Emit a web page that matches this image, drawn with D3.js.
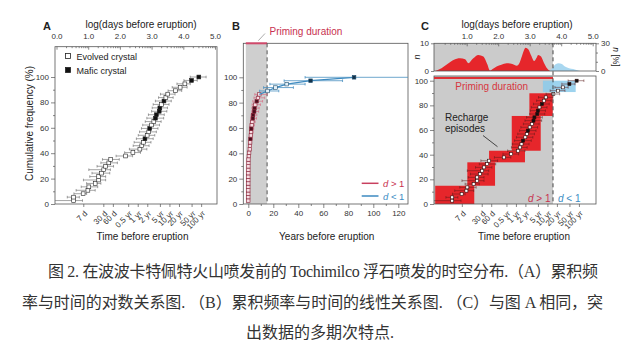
<!DOCTYPE html>
<html><head><meta charset="utf-8">
<script src="https://cdn.jsdelivr.net/npm/d3@7"></script>
<style>body{margin:0;background:#fff}svg{display:block}</style>
</head><body><svg id="c" width="641" height="360"></svg>
<script>
// ---------------- DATA ----------------
const logDays = [0.54,0.54,0.84,0.99,1.02,1.22,1.33,1.33,1.42,1.49,1.55,1.65,1.71,2.18,2.41,2.63,2.69,2.74,2.79,2.86,2.91,2.94,3.00,3.07,3.12,3.15,3.24,3.26,3.31,3.39,3.45,3.51,3.75,3.90,4.05,4.26,4.49];
const cumFreq = [2.7,5.4,8.1,10.8,13.5,16.2,18.9,21.6,24.3,27.0,29.7,32.4,35.1,37.8,40.5,43.2,45.9,48.6,51.4,54.1,56.8,59.5,62.2,64.9,67.6,70.3,73.0,75.7,78.4,81.1,83.8,86.5,89.2,91.9,94.6,97.3,100];
const errLo = [-0.2,0.34,0.55,0.62,0.78,0.95,0.85,1.05,1.12,1.02,1.28,1.40,1.45,1.88,2.15,2.30,2.42,2.45,2.52,2.58,2.62,2.68,2.72,2.80,2.85,2.90,3.00,3.02,3.05,3.12,3.22,3.28,3.52,3.65,3.80,4.02,4.22];
const errHi = [0.82,0.72,0.95,1.22,1.30,1.40,1.55,1.55,1.68,1.70,1.80,1.92,1.98,2.40,2.65,2.85,2.92,2.98,3.05,3.10,3.15,3.20,3.25,3.30,3.38,3.40,3.48,3.50,3.55,3.62,3.68,3.74,3.95,4.12,4.22,4.44,4.72];
const crystal = ["E","E","E","E","E","E","E","E","E","E","E","E","E","E","E","E","E","E","M","E","E","M","E","E","M","M","M","M","E","M","E","E","E","E","E","M","M"];
const logTicks = [0,1,2,3,4,5];
const freqTicks = [0,20,40,60,80,100];
const yearTicks = [0,20,40,60,80,100,120];
const timeTickDays = [7,30,60,182.5,365.25,730.5,1826.25,3652.5,7305,18262.5,36525];
const timeTickLabels = ["7 d","30 d","60 d","0.5 yr","1 yr","2 yr","5 yr","10 yr","20 yr","50 yr","100 yr"];
const primingLog = 3.74;
const densRedX = [0,0.2,0.4,0.58,0.79,0.95,1.05,1.2,1.37,1.53,1.65,1.74,1.85,1.95,2.1,2.27,2.45,2.59,2.68,2.75,2.87,2.96,3.05,3.14,3.22,3.27,3.36,3.45,3.55,3.65];
const densRedN = [0,1.0,2.6,4.0,4.6,4.2,2.8,4.5,5.8,5.2,2.5,0.2,0.9,1.6,2.3,2.8,2.5,1.9,3.0,5.2,8.4,7.8,5.5,3.6,4.8,5.8,5.2,3.0,1.0,0];
const densBlueX = [3.62,3.72,3.82,3.92,4.02,4.12,4.25,4.38,4.48,4.6];
const densBlueN = [0,1.0,2.4,2.8,2.5,1.6,1.0,0.7,0.4,0];
const episodeLogLo = [0,1.02,1.71,2.43,2.99];
const episodeLogHi = [1.24,1.90,2.85,3.35,3.73];
const episodeFreqLo = [0,14.8,33.8,43.2,71.4];
const episodeFreqHi = [14.8,33.8,43.2,71.4,89.8];
const lateLogLo = [3.42], lateLogHi = [4.46], lateFreqLo = [90.8], lateFreqHi = [100];
const captionLines = ["图 2. 在波波卡特佩特火山喷发前的 Tochimilco 浮石喷发的时空分布.（A）累积频",
  "率与时间的对数关系图. （B）累积频率与时间的线性关系图. （C）与图 A 相同，突",
  "出数据的多期次特点."];

// ---------------- SETUP ----------------
const svg = d3.select('#c');
const FONT = '"Liberation Sans", Arial, sans-serif';
const AX = '#555', INK = '#222';
const RED_T = '#c8314f', BLUE_T = '#3d8dc4';
const defs = svg.append('defs');
const rows = logDays.map((d,i)=>({x:d,y:cumFreq[i],lo:errLo[i],hi:errHi[i],t:crystal[i],i}));
const toYears = l => Math.pow(10,l)/365.25;

function clip(id,r){defs.append('clipPath').attr('id',id).append('rect')
  .attr('x',r.l).attr('y',r.t).attr('width',r.r-r.l).attr('height',r.b-r.t);return `url(#${id})`;}
function frame(r){svg.append('rect').attr('x',r.l).attr('y',r.t).attr('width',r.r-r.l).attr('height',r.b-r.t)
  .attr('fill','none').attr('stroke',AX).attr('stroke-width',0.8);}
function styleAxis(g,fs){g.select('.domain').remove();
  g.attr('font-family',FONT).attr('font-size',fs||8);
  g.selectAll('line').attr('stroke',AX).attr('stroke-width',0.7);
  g.selectAll('text').attr('fill','#333');}
function txt(x,y,s,o){const t=svg.append('text').attr('x',x).attr('y',y).text(s)
  .attr('font-family',FONT).attr('font-size',(o&&o.fs)||10).attr('fill',(o&&o.fill)||INK)
  .attr('text-anchor',(o&&o.anchor)||'middle');
  if(o&&o.weight)t.attr('font-weight',o.weight);
  if(o&&o.rot)t.attr('transform',`rotate(${o.rot},${x},${y})`);return t;}
function points(g,xf,yf,data,size,col,fillOpen,fillFull,ebCol,ebW){
  g.selectAll(null).data(data).join('line').attr('x1',d=>xf(d.lo)).attr('x2',d=>xf(d.hi))
    .attr('y1',d=>yf(d.y)).attr('y2',d=>yf(d.y)).attr('stroke',ebCol).attr('stroke-width',ebW);
  ['lo','hi'].forEach(k=>g.selectAll(null).data(data).join('line').attr('x1',d=>xf(d[k])).attr('x2',d=>xf(d[k]))
    .attr('y1',d=>yf(d.y)-1.3).attr('y2',d=>yf(d.y)+1.3).attr('stroke',ebCol).attr('stroke-width',ebW));
  g.selectAll(null).data(data).join('rect').attr('x',d=>xf(d.x)-size/2).attr('y',d=>yf(d.y)-size/2)
    .attr('width',size).attr('height',size).attr('fill',d=>d.t==='M'?fillFull:fillOpen)
    .attr('stroke',col).attr('stroke-width',0.6);
}
const minorLog=[];for(let k=0;k<5;k++)for(let m=2;m<10;m++)minorLog.push(k+Math.log10(m));
function timeAxis(xf,yb){
  const g=svg.append('g').attr('transform',`translate(0,${yb})`)
    .call(d3.axisBottom(xf).tickValues(timeTickDays.map(d=>Math.log10(d))).tickFormat((d,i)=>timeTickLabels[i]).tickSize(3));
  styleAxis(g,8);
  g.selectAll('text').attr('y',0).attr('x',0).attr('dy','0.35em').attr('text-anchor','end')
    .attr('transform','translate(2,8) rotate(-45)');
}
function freqAxis(yf,xl){
  const g=svg.append('g').attr('transform',`translate(${xl},0)`).call(d3.axisLeft(yf).tickValues(freqTicks).tickSize(4).tickPadding(2));
  styleAxis(g,8);
  const g2=svg.append('g').attr('transform',`translate(${xl},0)`).call(d3.axisLeft(yf).tickValues([10,30,50,70,90]).tickSize(2).tickFormat(''));
  styleAxis(g2,8);
}

// ---------------- PANEL A ----------------
const A={l:55,r:217,t:46.7,b:204};
const xA=d3.scaleLinear([0,5],[56.5,215]);
const yA=d3.scaleLinear([0,100],[204,77]);
frame(A);
{const g=svg.append('g').attr('transform',`translate(0,${A.t})`).call(d3.axisTop(xA).tickValues(logTicks).tickSize(-3).tickPadding(7.5));styleAxis(g,8);
 const g2=svg.append('g').attr('transform',`translate(0,${A.t})`).call(d3.axisTop(xA).tickValues(minorLog).tickSize(-1.5).tickFormat(''));styleAxis(g2);}
freqAxis(yA,A.l);
timeAxis(xA,A.b);
const gA=svg.append('g').attr('clip-path',clip('cA',A));
points(gA,xA,yA,rows,3.8,'#222','#fff','#111','#666',0.6);
txt(47,30,'A',{fs:11,weight:'bold'});
txt(141,28,'log(days before eruption)');
txt(142.5,240,'Time before eruption');
txt(33,123.5,'Cumulative frequency (%)',{rot:-90});
svg.append('rect').attr('x',65.5).attr('y',53.5).attr('width',5).attr('height',5).attr('fill','#fff').attr('stroke','#222').attr('stroke-width',0.8);
svg.append('rect').attr('x',65.5).attr('y',67.5).attr('width',5).attr('height',5).attr('fill','#111').attr('stroke','#222').attr('stroke-width',0.8);
txt(76.5,59.5,'Evolved crystal',{fs:9,anchor:'start'});
txt(76.5,73.5,'Mafic crystal',{fs:9,anchor:'start'});

// ---------------- PANEL B ----------------
const B={l:243.3,r:408,t:43.3,b:204};
const xB=d3.scaleLinear([0,120],[248.3,398.3]);
const yB=d3.scaleLinear([0,100],[204,77.3]);
const primYr=toYears(primingLog);
svg.append('rect').attr('x',xB(-2)).attr('y',B.t).attr('width',xB(primYr)-xB(-2)).attr('height',B.b-B.t).attr('fill','#cfcfcf');
frame(B);
svg.append('line').attr('x1',xB(-2)).attr('x2',xB(primYr)).attr('y1',B.t).attr('y2',B.t).attr('stroke','#d0486a').attr('stroke-width',2);
svg.append('line').attr('x1',xB(primYr)).attr('x2',xB(primYr)).attr('y1',B.t).attr('y2',B.b).attr('stroke','#555').attr('stroke-width',1).attr('stroke-dasharray','4,3');
{const g=svg.append('g').attr('transform',`translate(0,${B.b})`).call(d3.axisBottom(xB).tickValues(yearTicks).tickSize(4).tickPadding(2));styleAxis(g,8);
 const g2=svg.append('g').attr('transform',`translate(0,${B.b})`).call(d3.axisBottom(xB).tickValues([10,30,50,70,90,110]).tickSize(2).tickFormat(''));styleAxis(g2);}
freqAxis(yB,B.l);
const gB=svg.append('g').attr('clip-path',clip('cB',B));
const xBl=l=>xB(toYears(l));
const redRows=rows.slice(0,32), blueRows=rows.slice(31);
gB.append('path').datum(redRows).attr('d',d3.line().x(d=>xBl(d.x)).y(d=>yB(d.y))).attr('fill','none').attr('stroke','#d9607a').attr('stroke-width',2.2).attr('opacity',0.85);
points(gB,xBl,yB,redRows,3.4,'#8b2338','#f6dde3','#4a0f1e','#d9607a',0.6);
gB.append('path').datum(blueRows).attr('d',d3.line().x(d=>xBl(d.x)).y(d=>yB(d.y))).attr('fill','none').attr('stroke','#3d8ac0').attr('stroke-width',1.3);
points(gB,xBl,yB,rows.slice(32),3.6,'#1f4e6e','#e3f0f8','#14324a','#4a90c0',0.8);
txt(236,29.5,'B',{fs:11,weight:'bold'});
svg.append('line').attr('x1',258.3).attr('y1',40.7).attr('x2',265).attr('y2',33.5).attr('stroke','#888').attr('stroke-width',0.7);
txt(269.5,34.5,'Priming duration',{anchor:'start',fill:RED_T});
txt(326.7,240,'Years before eruption');
svg.append('line').attr('x1',361.7).attr('x2',378.5).attr('y1',183.3).attr('y2',183.3).attr('stroke','#c8405f').attr('stroke-width',1.5);
svg.append('line').attr('x1',361.7).attr('x2',378.5).attr('y1',196).attr('y2',196).attr('stroke','#3d8ac0').attr('stroke-width',1.5);
function dLabel(x,y,op,col,fs){const t=svg.append('text').attr('x',x).attr('y',y).attr('font-family',FONT).attr('font-size',fs).attr('fill',col);
  t.append('tspan').attr('font-style','italic').text('d');t.append('tspan').text(' '+op+' 1');}
dLabel(383,187,'>',RED_T,9.5);
dLabel(383,199.5,'<',BLUE_T,9.5);

// ---------------- PANEL C ----------------
const CH={l:434,r:596,t:43.3,b:71};
const CM={l:434,r:596,t:76,b:204};
const xC=d3.scaleLinear([0,5],[435.2,592.7]);
const yC=d3.scaleLinear([0,100],[204,80.7]);
const yH=d3.scaleLinear([0,10],[71,43.3]);
const yHr=d3.scaleLinear([0,30],[71,43.3]);
svg.append('rect').attr('x',CH.l).attr('y',CH.t).attr('width',xC(primingLog)-CH.l).attr('height',CH.b-CH.t).attr('fill','#cbcbcb');
const gH=svg.append('g').attr('clip-path',clip('cH',CH));
const area=d3.area().x(d=>xC(d[0])).y0(yH(0)).y1(d=>yH(d[1])).curve(d3.curveMonotoneX);
gH.append('path').datum(densBlueX.map((x,i)=>[x,densBlueN[i]])).attr('d',area).attr('fill','#a9d7f0');
gH.append('path').datum(densRedX.map((x,i)=>[x,densRedN[i]])).attr('d',area).attr('fill','#e6262b');
frame(CH);
{const g=svg.append('g').attr('transform',`translate(0,${CH.t})`).call(d3.axisTop(xC).tickValues(logTicks.slice(1)).tickSize(-3).tickPadding(4));styleAxis(g,8);
 const g2=svg.append('g').attr('transform',`translate(0,${CH.t})`).call(d3.axisTop(xC).tickValues(minorLog).tickSize(-1.5).tickFormat(''));styleAxis(g2);
 const g3=svg.append('g').attr('transform',`translate(${CH.l},0)`).call(d3.axisLeft(yH).tickValues([0,10]).tickSize(3).tickPadding(2));styleAxis(g3,8);
 const g4=svg.append('g').attr('transform',`translate(${CH.r},0)`).call(d3.axisRight(yHr).tickValues([0,30]).tickSize(3).tickPadding(2));styleAxis(g4,8);
 const g5=svg.append('g').attr('transform',`translate(${CH.r},0)`).call(d3.axisRight(yHr).tickValues([10,20]).tickSize(2).tickFormat(''));styleAxis(g5);}
{svg.append('text').attr('transform','translate(419.5,57) rotate(-90)').attr('text-anchor','middle').attr('font-family',FONT).attr('font-size',9).attr('font-style','italic').attr('fill',INK).text('n');
 const t2=svg.append('text').attr('transform','translate(613,57) rotate(90)').attr('text-anchor','middle').attr('font-family',FONT).attr('font-size',8.5).attr('fill',INK);
 t2.append('tspan').attr('font-style','italic').text('n');t2.append('tspan').text(' [%]');}
svg.append('rect').attr('x',CM.l).attr('y',CM.t).attr('width',xC(primingLog)-CM.l).attr('height',CM.b-CM.t).attr('fill','#cbcbcb');
const gC=svg.append('g').attr('clip-path',clip('cC',CM));
gC.selectAll(null).data(episodeLogLo).join('rect').attr('x',(d,i)=>xC(d)).attr('width',(d,i)=>xC(episodeLogHi[i])-xC(d))
  .attr('y',(d,i)=>yC(episodeFreqHi[i])).attr('height',(d,i)=>yC(episodeFreqLo[i])-yC(episodeFreqHi[i])).attr('fill','#e6262b');
gC.selectAll(null).data(lateLogLo).join('rect').attr('x',(d,i)=>xC(d)).attr('width',(d,i)=>xC(lateLogHi[i])-xC(d))
  .attr('y',(d,i)=>yC(lateFreqHi[i])).attr('height',(d,i)=>yC(lateFreqLo[i])-yC(lateFreqHi[i])).attr('fill','#8ccbeb').attr('opacity',0.85);
points(gC,xC,yC,rows,3.0,'#2a0a0a','#fff','#111','#5a1a1a',0.5);
frame(CM);
svg.append('line').attr('x1',CM.l).attr('x2',xC(primingLog)).attr('y1',78).attr('y2',78).attr('stroke','#e03035').attr('stroke-width',2);
svg.append('line').attr('x1',xC(primingLog)).attr('x2',xC(primingLog)).attr('y1',CH.t).attr('y2',CM.b).attr('stroke','#444').attr('stroke-width',1).attr('stroke-dasharray','4,3');
freqAxis(yC,CM.l);
timeAxis(xC,CM.b);
txt(425,29.5,'C',{fs:11,weight:'bold'});
txt(517,28,'log(days before eruption)');
txt(524,240,'Time before eruption');
txt(491.7,89.5,'Priming duration',{fill:'#d7373f'});
txt(445,121,'Recharge',{anchor:'start'});
txt(445,132,'episodes',{anchor:'start'});
svg.append('line').attr('x1',483).attr('y1',135.5).attr('x2',497.5).attr('y2',146.7).attr('stroke','#222').attr('stroke-width',0.8);
dLabel(528,202,'>',RED_T,10);
dLabel(558,202,'<',BLUE_T,10);

// ---------------- CAPTION ----------------
const CAPF='"Liberation Serif","Noto Sans CJK SC",serif';
svg.append('text').attr('x',48).attr('y',277).attr('font-family',CAPF).attr('font-size',16).attr('fill','#333')
  .attr('textLength',550).attr('lengthAdjust','spacing').text(captionLines[0]);
svg.append('text').attr('x',22).attr('y',308).attr('font-family',CAPF).attr('font-size',16).attr('fill','#333')
  .attr('textLength',581).attr('lengthAdjust','spacing').text(captionLines[1]);
svg.append('text').attr('x',320).attr('y',338).attr('font-family',CAPF).attr('font-size',16).attr('fill','#333')
  .attr('text-anchor','middle').text(captionLines[2]);
</script></body></html>
